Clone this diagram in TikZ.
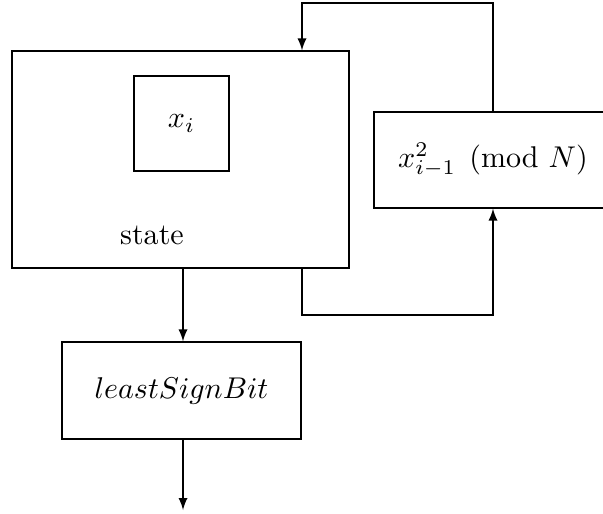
\documentclass[tikz,border=0pt]{standalone}
\usepackage{amsmath}
\usepackage{tikz}
\usetikzlibrary{calc}
\newcommand{\px}{0.0117cm}

\begin{document}
\begin{tikzpicture}[x=\px,y=\px,>=latex]
       \tikzstyle{frame} = [rectangle, draw, inner sep=0pt];

       \useasboundingbox (0,0) rectangle (603,513);

       \node[frame, minimum width=337*\px, minimum height=217*\px] (state) at (180.5,353.5) {};
       \node[frame, minimum width=95*\px, minimum height=95*\px] (xi) at (181.5,389.5) {$x_i$};
       \node (statelabel) at (152,278) {state};
       \node[frame, minimum width=238*\px, minimum height=96*\px] (square) at (493,353) {$x_{i-1}^2 \pmod{N}$};
       \node[frame, minimum width=239*\px, minimum height=97*\px] (lsb) at (181.5,122.5) {$leastSignBit$};

       \coordinate (out) at (183,3);
       \coordinate (top) at (302,510);
       \coordinate (bot) at (302,198);

       \draw[->] (state.south -| out) -- (lsb.north -| out);
       \draw[->] (lsb.south -| out) -- (out);
       \draw[->] (square.north) |- (top) -- (state.north -| top);
       \draw[->] (state.south -| bot) -- (bot) -| (square.south);
     \end{tikzpicture}
\end{document}
